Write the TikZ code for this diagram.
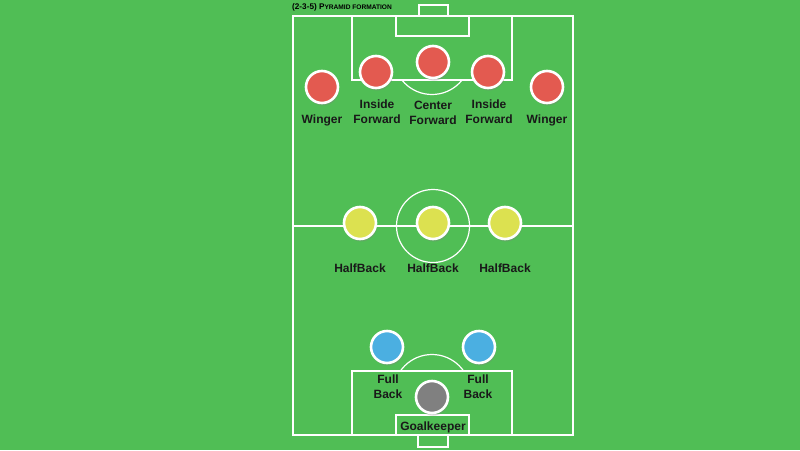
\documentclass[tikz,border=0pt]{standalone}
\usepackage{fontspec}
\setmainfont{Liberation Sans}
\usetikzlibrary{shadows}
\definecolor{pitchgreen}{RGB}{80,190,85}
\definecolor{fwdred}{RGB}{227,90,80}
\definecolor{halfyellow}{RGB}{220,225,80}
\definecolor{backblue}{RGB}{75,175,225}
\definecolor{keepgray}{RGB}{128,128,128}

\tikzset{
  line/.style={draw=white, line width=1.2pt},
  player/.style={circle, draw=white, line width=2.6pt, minimum size=32pt, inner sep=0pt,
    drop shadow={shadow xshift=1pt, shadow yshift=-2.5pt, opacity=0.35}},
  lbl/.style={font=\bfseries\fontsize{12}{15}\selectfont, text=black!90, align=center}
}

\begin{document}
\begin{tikzpicture}[x=1pt, y=-1pt]
    \fill[pitchgreen] (0,0) rectangle (800,450);
    \useasboundingbox (0,0) rectangle (800,450);

    % Pitch lines
    \draw[line] (293,16) rectangle (573,435);
    \draw[line] (293,226) -- (573,226);
    \draw[line] (433,226) circle (36.5pt);
    % top end
    \draw[line] (419,5) rectangle (448,16);
    \draw[line] (352,16) rectangle (512,80);
    \draw[line] (396,16) rectangle (469,36);
    \begin{scope}
        \clip (352,80) rectangle (512,110);
        \draw[line] (432,56) circle (38.5pt);
    \end{scope}
    % bottom end
    \draw[line] (418,435) rectangle (448,447);
    \draw[line] (352,371) rectangle (512,435);
    \draw[line] (396,415) rectangle (469,435);
    \begin{scope}
        \clip (352,371) rectangle (512,340);
        \draw[line] (432,393) circle (38.5pt);
    \end{scope}

    % Title
    \node[anchor=west, inner sep=0pt, font=\bfseries\fontsize{8.2}{9}\selectfont] (title) at (292,7)
        {(2-3-5) P{\fontsize{6.6}{7}\selectfont YRAMID FORMATION}};

    % Forwards
    \node[player, fill=fwdred] (lw) at (322,87) {};
    \node[player, fill=fwdred] (li) at (376,72) {};
    \node[player, fill=fwdred] (cf) at (433,62) {};
    \node[player, fill=fwdred] (ri) at (488,72) {};
    \node[player, fill=fwdred] (rw) at (547,87) {};
    \node[lbl] (lwlabel) at (322,120) {Winger};
    \node[lbl] (lilabel) at (377,111.5) {Inside\\Forward};
    \node[lbl] (cflabel) at (433,113) {Center\\Forward};
    \node[lbl] (rilabel) at (489,111.5) {Inside\\Forward};
    \node[lbl] (rwlabel) at (547,120) {Winger};

    % Half backs
    \foreach \x/\n in {360/lh,433/ch,505/rh} {
        \node[player, fill=halfyellow] (\n) at (\x,223) {};
        \node[lbl] (\n label) at (\x,268) {HalfBack};
    }

    % Full backs
    \node[player, fill=backblue] (lb) at (387,347) {};
    \node[player, fill=backblue] (rb) at (479,347) {};
    \node[lbl] (lblabel) at (388,387) {Full\\Back};
    \node[lbl] (rblabel) at (478,387) {Full\\Back};

    % Goalkeeper
    \node[player, fill=keepgray] (gk) at (432,397) {};
    \node[lbl] (gklabel) at (433,427) {Goalkeeper};
\end{tikzpicture}
\end{document}
